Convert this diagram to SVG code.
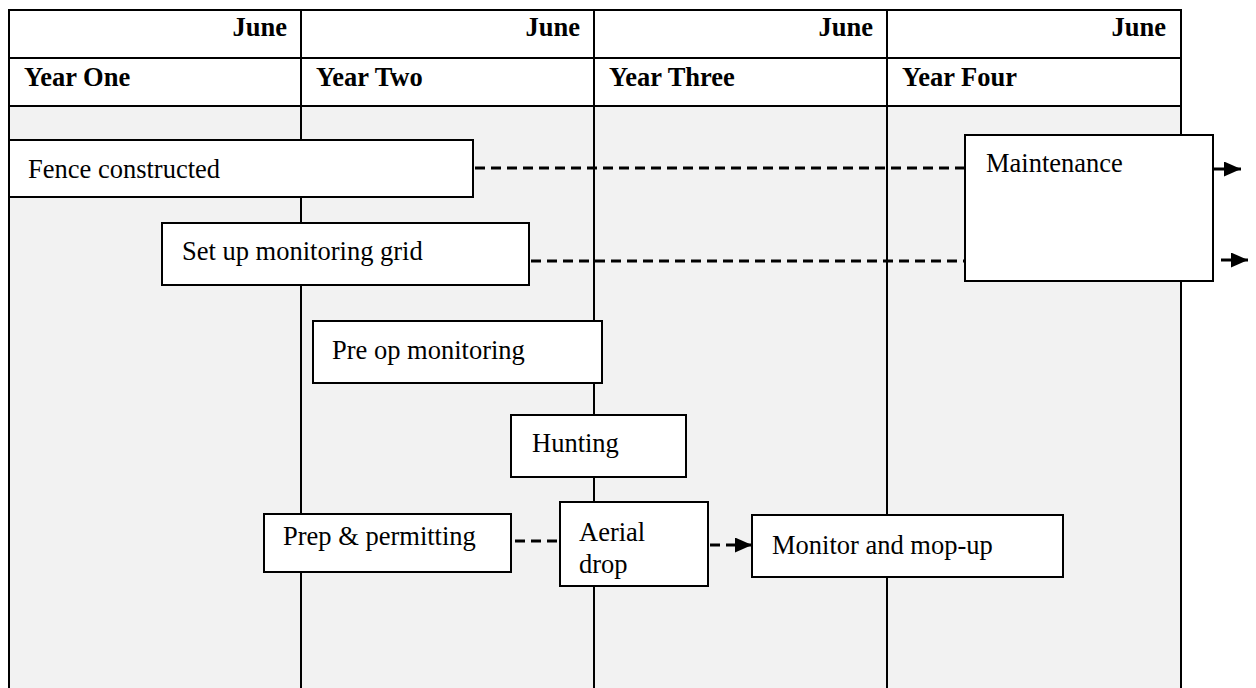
<svg xmlns="http://www.w3.org/2000/svg" width="1256" height="688" viewBox="0 0 1256 688">
  <defs>
    <style>
      .grid { stroke: #000; stroke-width: 2; fill: none; }
      .box { fill: #fff; stroke: #000; stroke-width: 2; }
      .t { font-family: "Liberation Serif", "Times New Roman", serif; font-size: 26.5px; fill: #000; }
      .h { font-family: "Liberation Serif", "Times New Roman", serif; font-size: 26.5px; font-weight: bold; fill: #000; }
      .dash { stroke: #000; stroke-width: 3; stroke-dasharray: 10 6; fill: none; }
      .solid { stroke: #000; stroke-width: 3; fill: none; }
    </style>
    <marker id="arr" markerWidth="17" markerHeight="15" refX="17" refY="7.5" orient="auto" markerUnits="userSpaceOnUse">
      <path d="M0,0 L17,7.5 L0,15 Z" fill="#000"/>
    </marker>
  </defs>
  <rect width="1256" height="688" fill="#fff"/>
  <g id="table">
    <rect x="9" y="106" width="1172" height="590" fill="#f2f2f2"/>
    <line class="grid" x1="9" y1="10" x2="1181" y2="10"/>
    <line class="grid" x1="9" y1="58" x2="1181" y2="58"/>
    <line class="grid" x1="9" y1="106" x2="1181" y2="106"/>
    <line class="grid" x1="9" y1="9" x2="9" y2="688"/>
    <line class="grid" x1="301" y1="10" x2="301" y2="688"/>
    <line class="grid" x1="594" y1="10" x2="594" y2="688"/>
    <line class="grid" x1="887" y1="10" x2="887" y2="688"/>
    <line class="grid" x1="1181" y1="9" x2="1181" y2="688"/>
    <text class="h" x="287" y="36" text-anchor="end">June</text>
    <text class="h" x="580" y="36" text-anchor="end">June</text>
    <text class="h" x="873" y="36" text-anchor="end">June</text>
    <text class="h" x="1166" y="36" text-anchor="end">June</text>
    <text class="h" x="24" y="86">Year One</text>
    <text class="h" x="316" y="86">Year Two</text>
    <text class="h" x="609" y="86">Year Three</text>
    <text class="h" x="902" y="86">Year Four</text>
  </g>
  <g id="connectors">
    <line class="dash" x1="475" y1="168" x2="965" y2="168"/>
    <line class="dash" x1="531" y1="261" x2="965" y2="261"/>
    <line class="solid" x1="1213" y1="169" x2="1241" y2="169" marker-end="url(#arr)"/>
    <line class="solid" x1="1221" y1="260" x2="1248" y2="260" marker-end="url(#arr)"/>
    <line class="dash" x1="515" y1="541" x2="560" y2="541"/>
    <line class="dash" x1="710" y1="545" x2="752" y2="545" marker-end="url(#arr)"/>
  </g>
  <g id="fence">
    <rect class="box" x="9" y="140" width="464" height="57"/>
    <text class="t" x="28" y="178">Fence constructed</text>
  </g>
  <g id="setup">
    <rect class="box" x="162" y="223" width="367" height="62"/>
    <text class="t" x="182" y="260">Set up monitoring grid</text>
  </g>
  <g id="maintenance">
    <rect class="box" x="965" y="135" width="248" height="146"/>
    <text class="t" x="986" y="172">Maintenance</text>
  </g>
  <g id="preop">
    <rect class="box" x="313" y="321" width="289" height="62"/>
    <text class="t" x="332" y="359">Pre op monitoring</text>
  </g>
  <g id="hunting">
    <rect class="box" x="511" y="415" width="175" height="62"/>
    <text class="t" x="532" y="452">Hunting</text>
  </g>
  <g id="prep">
    <rect class="box" x="264" y="514" width="247" height="58"/>
    <text class="t" x="283" y="545">Prep &amp; permitting</text>
  </g>
  <g id="aerial">
    <rect class="box" x="560" y="502" width="148" height="84"/>
    <text class="t" x="579" y="541">Aerial</text>
    <text class="t" x="579" y="573">drop</text>
  </g>
  <g id="monitor">
    <rect class="box" x="752" y="515" width="311" height="62"/>
    <text class="t" x="772" y="554">Monitor and mop-up</text>
  </g>
</svg>
